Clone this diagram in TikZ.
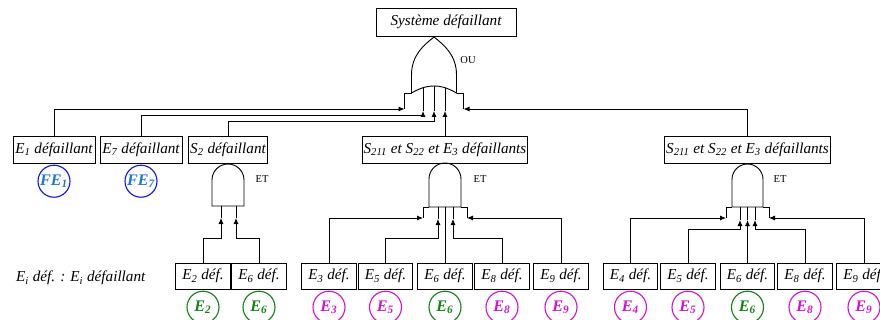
\documentclass[tikz,border=0pt]{standalone}
\usepackage{fontspec}
\setmainfont{Liberation Serif}
\usepackage{xcolor}
\usetikzlibrary{positioning,calc,arrows.meta}

\definecolor{febleu}{RGB}{20,20,235}
\definecolor{fetexte}{RGB}{30,120,210}
\definecolor{evvert}{RGB}{20,130,20}
\definecolor{evmag}{RGB}{210,20,210}

\tikzset{
	evt/.style={draw, minimum height=0.675cm, inner sep=1pt, font=\fontsize{10.8}{12}\selectfont\itshape},
	def/.style={evt, minimum width=1.36cm, minimum height=0.65cm},
	base/.style={circle, draw, line width=0.8pt, minimum size=0.8cm, inner sep=0pt, font=\fontsize{11.5}{12}\selectfont\bfseries\itshape},
	fe/.style={base, draw=febleu, text=fetexte},
	vert/.style={base, draw=evvert, text=evvert},
	mag/.style={base, draw=evmag, text=evmag},
	porte/.style={font=\fontsize{7.5}{9}\selectfont},
	fl/.style={-{Latex[length=1.5mm,width=1.3mm]}},
}

\begin{document}
\begin{tikzpicture}[x=0.025cm, y=-0.025cm, line width=0.65pt]
		\useasboundingbox (0,0) rectangle (880,320);
		
		% evenement sommet
		\node[evt, minimum width=3.5cm, minimum height=0.7cm] (sys) at (446,22) {Système défaillant};
		
		% porte OU
		\begin{scope}[shift={(434,37)}]
			\coordinate (ou-g) at (-29.5,72);
			\coordinate (ou-a) at (-11,74);
			\coordinate (ou-b) at (0,74);
			\coordinate (ou-c) at (11,74);
			\coordinate (ou-d) at (29.5,72);
			\foreach \i in {a,b,c} \draw (ou-\i) -- ++(0,-26);
			\draw[fill=white] (-22.5,56) -- (-22.5,38) .. controls (-22.5,18) and (-10,8) .. (0,0) .. controls (10,8) and (22.5,18) .. (22.5,38) -- (22.5,56) .. controls (12,50) and (6,49) .. (0,49) .. controls (-6,49) and (-12,50) .. (-22.5,56) -- cycle;
			\draw (ou-g) |- (-22.5,56) (ou-d) |- (22.5,56);
			\node[porte] (ou-lbl) at (34,23) {OU};
		\end{scope}
		
		% niveau 1
		\node[evt, minimum width=2.05cm] (e1) at (54,149.5) {E\textsubscript{1} défaillant};
		\node[evt, minimum width=2.05cm] (e7) at (141,149.5) {E\textsubscript{7} défaillant};
		\node[evt, minimum width=1.98cm] (s2) at (228,149.5) {S\textsubscript{2} défaillant};
		\node[evt, minimum width=4.1cm] (s211m) at (445,149.5) {S\textsubscript{211} et S\textsubscript{22} et E\textsubscript{3} défaillants};
		\node[evt, minimum width=4.1cm] (s211r) at (747.5,149.5) {S\textsubscript{211} et S\textsubscript{22} et E\textsubscript{3} défaillants};
		
		\node[fe, below=0.3mm of e1] (fe1) {FE\textsubscript{1}};
		\node[fe, below=0.3mm of e7] (fe7) {FE\textsubscript{7}};
		
		\draw[fl] (e1.north) |- (ou-g);
		\draw[fl] (e7.north) |- ($(ou-a)+(0,4)$) -- (ou-a);
		\draw[fl] (s2.north) |- ($(ou-b)+(0,10)$) -- (ou-b);
		\draw[fl] (s211m.north) -- (ou-c);
		\draw[fl] (s211r.north) |- (ou-d);
		
		% porte ET sous S2
		\begin{scope}[shift={(228,164)}]
			\coordinate (et1-a) at (-7,54);
			\coordinate (et1-b) at (8,54);
			\draw (et1-a) -- ++(0,-12) (et1-b) -- ++(0,-12);
			\draw (-16,42) -- (-16,16) arc[start angle=180, end angle=360, radius=16] -- (16,42) -- cycle;
			\node[porte] (et1-lbl) at (34,15) {ET};
		\end{scope}
		
		% porte ET milieu
		\begin{scope}[shift={(445,163)}]
			\coordinate (et2-g) at (-22,55);
			\coordinate (et2-a) at (-7,56);
			\coordinate (et2-c) at (0,44);
			\coordinate (et2-b) at (8,56);
			\coordinate (et2-d) at (22,55);
			\draw (et2-a) -- ++(0,-12) (et2-b) -- ++(0,-12);
			\draw (-16,44) -- (-16,16) arc[start angle=180, end angle=360, radius=16] -- (16,44) -- cycle;
			\draw (et2-g) |- (-16,44) (et2-d) |- (16,44);
			\node[porte] (et2-lbl) at (35,16) {ET};
		\end{scope}
		
		% porte ET droite
		\begin{scope}[shift={(747.5,164)}]
			\coordinate (et3-g) at (-21.5,54);
			\coordinate (et3-a) at (-7.5,56);
			\coordinate (et3-c) at (0,56);
			\coordinate (et3-b) at (7.5,56);
			\coordinate (et3-d) at (21.5,54);
			\foreach \i in {a,b,c} \draw (et3-\i) -- ++(0,-13);
			\draw (-15.5,43) -- (-15.5,15.5) arc[start angle=180, end angle=360, radius=15.5] -- (15.5,43) -- cycle;
			\draw (et3-g) |- (-15.5,43) (et3-d) |- (15.5,43);
			\node[porte] (et3-lbl) at (32.5,15) {ET};
		\end{scope}
		
		% evenements de base
		\node[def] (e2) at (203,276) {E\textsubscript{2} déf.};
		\node[def] (e6) at (259,276) {E\textsubscript{6} déf.};
		\node[vert, below=0.3mm of e2] (c2) {E\textsubscript{2}};
		\node[vert, below=0.3mm of e6] (c6) {E\textsubscript{6}};
		\draw[fl] (e2.north) |- ($(et1-a)+(0,20)$) -- (et1-a);
		\draw[fl] (e6.north) |- ($(et1-b)+(0,20)$) -- (et1-b);
		
		\node[def] (e3m) at (329,276) {E\textsubscript{3} déf.};
		\node[def] (e5m) at (385.5,276) {E\textsubscript{5} déf.};
		\node[def] (e6m) at (445,276) {E\textsubscript{6} déf.};
		\node[def] (e8m) at (502,276) {E\textsubscript{8} déf.};
		\node[def] (e9m) at (561,276) {E\textsubscript{9} déf.};
		\node[mag, below=0.3mm of e3m] (c3m) {E\textsubscript{3}};
		\node[mag, below=0.3mm of e5m] (c5m) {E\textsubscript{5}};
		\node[vert, below=0.3mm of e6m] (c6m) {E\textsubscript{6}};
		\node[mag, below=0.3mm of e8m] (c8m) {E\textsubscript{8}};
		\node[mag, below=0.3mm of e9m] (c9m) {E\textsubscript{9}};
		\draw[fl] (e3m.north) |- (et2-g);
		\draw[fl] (e5m.north) |- ($(et2-a)+(0,19)$) -- (et2-a);
		\draw (e6m.north) -- (et2-c);
		\draw[fl] (e8m.north) |- ($(et2-b)+(0,19)$) -- (et2-b);
		\draw[fl] (e9m.north) |- (et2-d);
		
		\node[def] (e4r) at (630.5,276) {E\textsubscript{4} déf.};
		\node[def] (e5r) at (688,276) {E\textsubscript{5} déf.};
		\node[def] (e6r) at (747.5,276) {E\textsubscript{6} déf.};
		\node[def] (e8r) at (805,276) {E\textsubscript{8} déf.};
		\node[def] (e9r) at (864,276) {E\textsubscript{9} déf.};
		\node[mag, below=0.3mm of e4r] (c4r) {E\textsubscript{4}};
		\node[mag, below=0.3mm of e5r] (c5r) {E\textsubscript{5}};
		\node[vert, below=0.3mm of e6r] (c6r) {E\textsubscript{6}};
		\node[mag, below=0.3mm of e8r] (c8r) {E\textsubscript{8}};
		\node[mag, below=0.3mm of e9r] (c9r) {E\textsubscript{9}};
		\draw[fl] (e4r.north) |- (et3-g);
		\draw[fl] (e5r.north) |- ($(et3-a)+(0,9)$) -- (et3-a);
		\draw[fl] (e6r.north) -- (et3-c);
		\draw[fl] (e8r.north) |- ($(et3-b)+(0,9)$) -- (et3-b);
		\draw[fl] (e9r.north) |- (et3-d);
		
		% legende
		\node[anchor=west, font=\fontsize{10.8}{12}\selectfont\itshape] (leg) at (11,278) {E\textsubscript{i} déf. : E\textsubscript{i} défaillant};
	\end{tikzpicture}
\end{document}
